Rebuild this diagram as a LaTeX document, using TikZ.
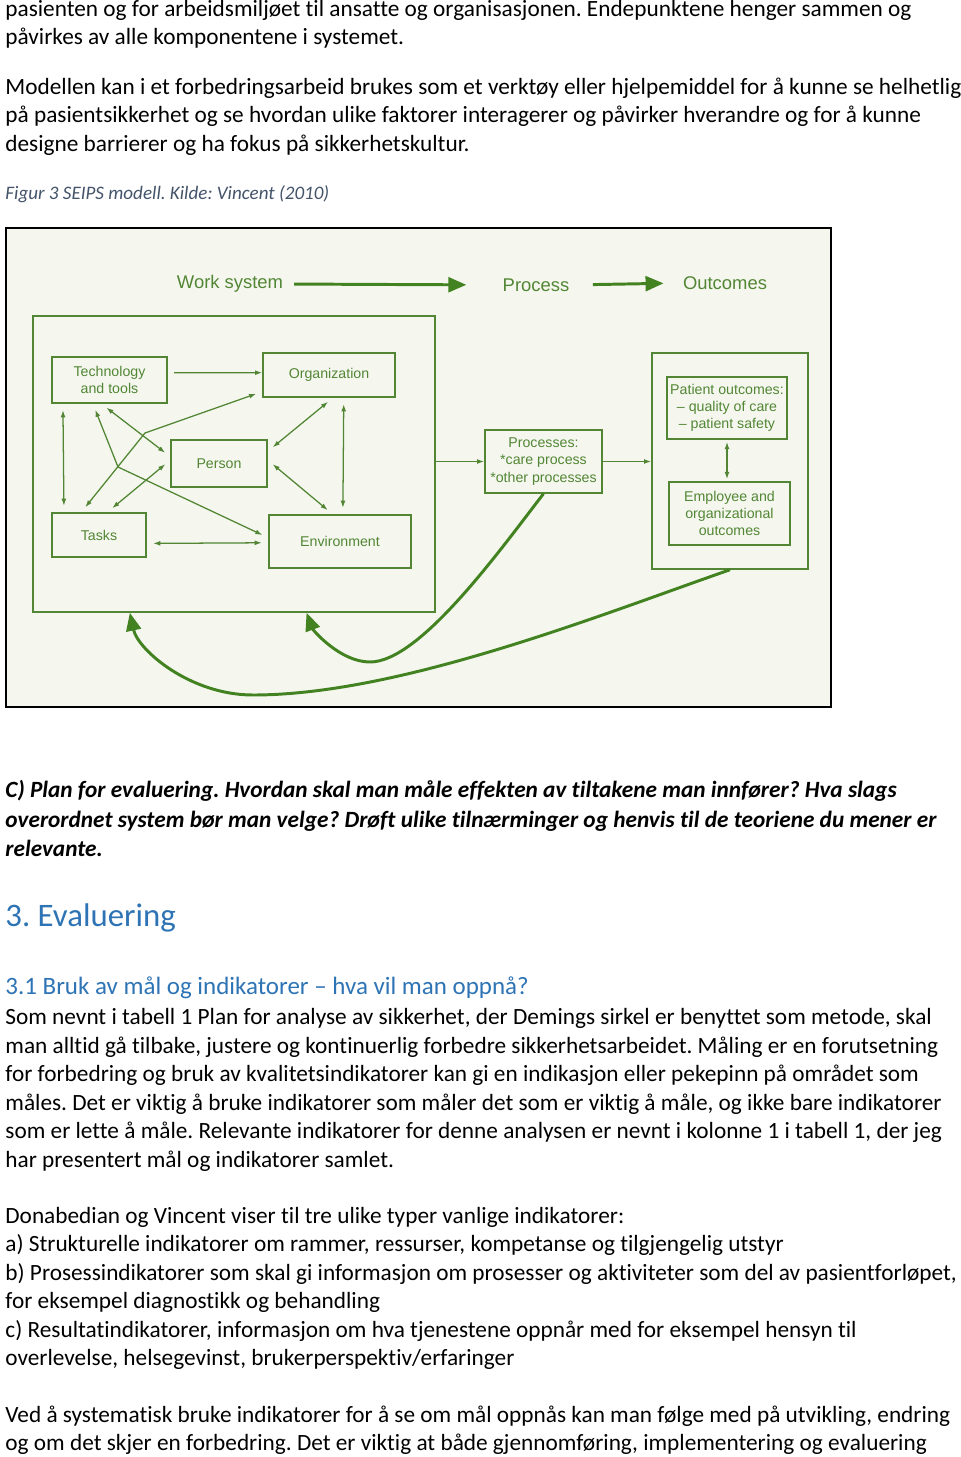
\documentclass[tikz,border=0pt]{standalone}
\usepackage{fontspec}
\setmainfont{Carlito}[Ligatures={TeX,NoCommon}]
\newfontfamily\seipsfont{Liberation Sans}
\usepackage{xcolor}
\usetikzlibrary{calc}
\usetikzlibrary{positioning}
\usetikzlibrary{arrows.meta}

\newdimen\pxunit
\pxunit=0.4724pt

\definecolor{seipsgreen}{RGB}{82,134,52}
\definecolor{seipsdark}{RGB}{66,130,32}
\definecolor{seipsbg}{RGB}{245,247,239}
\definecolor{captiongray}{HTML}{44546A}
\definecolor{headblue}{HTML}{2E74B5}

\tikzset{
  textline/.style={anchor=base west, inner sep=0pt, font=\fontsize{11}{13.4}\selectfont},
  questionline/.style={textline, font=\fontsize{11}{13.4}\selectfont\bfseries\itshape},
  captionline/.style={textline, text=captiongray, font=\fontsize{9}{11}\selectfont\itshape},
  box/.style 2 args={draw=seipsgreen, line width=0.7pt, inner sep=0pt, text=seipsgreen, align=center,
    minimum width=#1*\pxunit, minimum height=#2*\pxunit,
    font=\seipsfont\fontsize{6.7}{8.1}\selectfont},
  toplabel/.style={text=seipsgreen, inner sep=0pt, font=\seipsfont\fontsize{8.7}{10}\selectfont},
  flow/.style={draw=seipsgreen, line width=0.6pt, -{Latex[length=3.4pt,width=2.3pt]}},
  link/.style={draw=seipsgreen, line width=0.6pt, {Latex[length=3.4pt,width=2.3pt]}-{Latex[length=3.4pt,width=2.3pt]},
    shorten <=3pt, shorten >=3pt},
  bigflow/.style={draw=seipsdark, line width=1.4pt, -{Triangle[length=8.5pt,width=7pt]}}
}

\begin{document}
\frenchspacing
\begin{tikzpicture}[x=0.4724pt,y=-0.4724pt]
\fill[white] (0,0) rectangle (960,1457);
\useasboundingbox (0,0) rectangle (960,1457);

\node[textline] (p1) at (5,16.5) {pasienten og for arbeidsmiljøet til ansatte og organisasjonen. Endepunktene henger sammen og};
\node[textline] (p2) at (5,45) {påvirkes av alle komponentene i systemet.};
\node[textline] (p3) at (5,94.5) {Modellen kan i et forbedringsarbeid brukes som et verktøy eller hjelpemiddel for å kunne se helhetlig};
\node[textline] (p4) at (5,123) {på pasientsikkerhet og se hvordan ulike faktorer interagerer og påvirker hverandre og for å kunne};
\node[textline] (p5) at (5,151.5) {designe barrierer og ha fokus på sikkerhetskultur.};
\node[captionline] (cap) at (5,199) {Figur 3 SEIPS modell. Kilde: Vincent (2010)};

\draw[black, line width=0.8pt, fill=seipsbg] (6,228) rectangle (831,707);

\node[toplabel] (wslabel) at (230,284) {Work system};
\node[toplabel] (prlabel) at (536,285) {Process};
\node[toplabel] (oclabel) at (725,283) {Outcomes};
\draw[bigflow, shorten <=5pt, shorten >=17pt] (wslabel.east) -- (prlabel.west);
\draw[bigflow, shorten <=11pt, shorten >=9pt] (prlabel.east) -- (oclabel.west);

\node[box={402}{296}] (worksys) at (234,464) {};
\node[box={156}{216}] (outbox) at (730,461) {};

\node[box={115}{46}] (tech) at (109.5,380) {Technology\\and tools};
\node[box={132}{44}] (org) at (329,375) {Organization};
\node[box={96}{47}] (person) at (219,463.5) {Person};
\node[box={94}{44}] (tasks) at (99,535) {Tasks};
\node[box={142}{53}] (env) at (340,541.5) {Environment};
\node[box={117}{63}] (proc) at (543.5,461.5) {Processes:\\{*}care process\\{*}other processes};
\node[box={120}{62}] (patient) at (727,408) {Patient outcomes:\\– quality of care\\– patient safety};
\node[box={121}{63}] (employee) at (729.5,513.5) {Employee and\\organizational\\outcomes};

\draw[flow, shorten <=3pt] (tech.7) -- (org.178);
\draw[link] (tech.207) -- (tasks.147);
\draw[link] (tech.251) -- (person.172);
\draw[link] (tech.235) -- (118,467) -- (env.177);
\draw[link] (tasks.128) -- (145,433) -- (org.194);
\draw[link] (tasks.70) -- (person.176);
\draw[link] (org.280) -- (person.14);
\draw[link] (org.303) -- (env.84);
\draw[link] (person.4) -- (env.105);
\draw[link] (tasks.350) -- (env.181);

\draw[flow] (proc.west -| worksys.east) -- (proc.west);
\draw[flow] (proc.east) -- (proc.east -| outbox.west);
\draw[link, shorten <=1pt, shorten >=1pt] (patient.south) -- (patient.south |- employee.north);

\draw[bigflow] (proc.south) .. controls (500,550) and (420,662) .. (370,662)
  .. controls (340,662) and (313,630) .. (worksys.296);
\draw[bigflow] (outbox.south) .. controls (600,615) and (400,695) .. (253,695)
  .. controls (190,695) and (138,650) .. (worksys.235);

\node[questionline] (q1) at (5,797) {C) Plan for evaluering. Hvordan skal man måle effekten av tiltakene man innfører? Hva slags};
\node[questionline] (q2) at (5,827.5) {overordnet system bør man velge? Drøft ulike tilnærminger og henvis til de teoriene du mener er};
\node[questionline] (q3) at (5,856) {relevante.};

\node[textline, text=headblue, font=\fontsize{15.5}{19}\selectfont] (h1) at (5,926) {3. Evaluering};
\node[textline, text=headblue, font=\fontsize{11.8}{15}\selectfont] (h2) at (5,994) {3.1 Bruk av mål og indikatorer – hva vil man oppnå?};

\node[textline] (b1) at (5,1024.5) {Som nevnt i tabell 1 Plan for analyse av sikkerhet, der Demings sirkel er benyttet som metode, skal};
\node[textline] (b2) at (5,1053) {man alltid gå tilbake, justere og kontinuerlig forbedre sikkerhetsarbeidet. Måling er en forutsetning};
\node[textline] (b3) at (5,1081.5) {for forbedring og bruk av kvalitetsindikatorer kan gi en indikasjon eller pekepinn på området som};
\node[textline] (b4) at (5,1110) {måles. Det er viktig å bruke indikatorer som måler det som er viktig å måle, og ikke bare indikatorer};
\node[textline] (b5) at (5,1138.5) {som er lette å måle. Relevante indikatorer for denne analysen er nevnt i kolonne 1 i tabell 1, der jeg};
\node[textline] (b6) at (5,1167) {har presentert mål og indikatorer samlet.};

\node[textline] (c1) at (5,1223) {Donabedian og Vincent viser til tre ulike typer vanlige indikatorer:};
\node[textline] (c2) at (5,1251.5) {a) Strukturelle indikatorer om rammer, ressurser, kompetanse og tilgjengelig utstyr};
\node[textline] (c3) at (5,1280) {b) Prosessindikatorer som skal gi informasjon om prosesser og aktiviteter som del av pasientforløpet,};
\node[textline] (c4) at (5,1308.5) {for eksempel diagnostikk og behandling};
\node[textline] (c5) at (5,1337) {c) Resultatindikatorer, informasjon om hva tjenestene oppnår med for eksempel hensyn til};
\node[textline] (c6) at (5,1365.5) {overlevelse, helsegevinst, brukerperspektiv/erfaringer};

\node[textline] (d1) at (5,1422) {Ved å systematisk bruke indikatorer for å se om mål oppnås kan man følge med på utvikling, endring};
\node[textline] (d2) at (5,1450.5) {og om det skjer en forbedring. Det er viktig at både gjennomføring, implementering og evaluering};

\end{tikzpicture}
\end{document}
